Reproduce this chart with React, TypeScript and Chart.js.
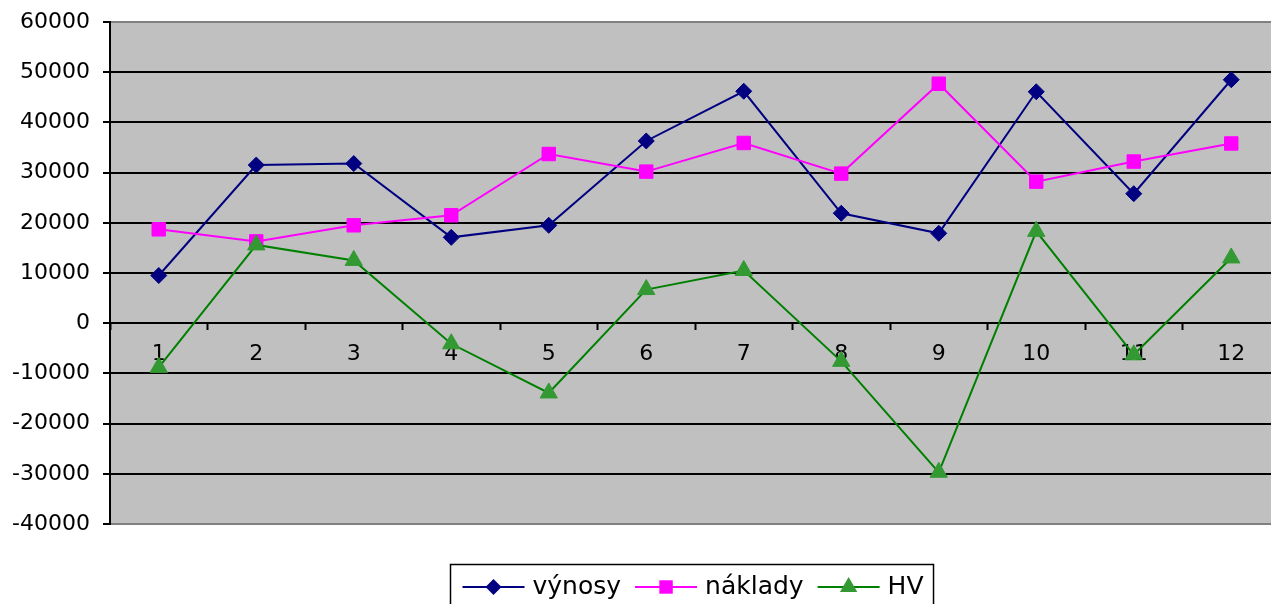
import React, { useEffect, useRef } from 'react';
import { Chart, registerables } from 'chart.js';

Chart.register(...registerables);

const categories = ['1', '2', '3', '4', '5', '6', '7', '8', '9', '10', '11', '12'];
const vynosy = [9500, 31500, 31800, 17100, 19500, 36300, 46200, 21900, 17900, 46100, 25800, 48500];
const naklady = [18700, 16300, 19500, 21500, 33700, 30200, 35900, 29800, 47700, 28200, 32200, 35800];
const hv = [-8800, 15600, 12500, -4100, -13900, 6700, 10500, -7600, -29700, 18300, -6300, 13000];
const seriesNames = ['výnosy', 'náklady', 'HV'];
const yMin = -40000;
const yMax = 60000;
const yStep = 10000;

const FONT = "'DejaVu Sans', sans-serif";

function drawMarker(ctx: CanvasRenderingContext2D, style: string, x: number, y: number, r: number, fill: string) {
  ctx.save();
  ctx.fillStyle = fill;
  ctx.beginPath();
  if (style === 'rectRot') {
    ctx.moveTo(x, y - r);
    ctx.lineTo(x + r, y);
    ctx.lineTo(x, y + r);
    ctx.lineTo(x - r, y);
  } else if (style === 'rect') {
    const s = r * Math.SQRT1_2;
    ctx.rect(x - s, y - s, 2 * s, 2 * s);
  } else {
    const a = (2 * Math.PI) / 3;
    ctx.moveTo(x, y - r);
    ctx.lineTo(x + Math.sin(a) * r, y - Math.cos(a) * r);
    ctx.lineTo(x + Math.sin(2 * a) * r, y - Math.cos(2 * a) * r);
  }
  ctx.closePath();
  ctx.fill();
  ctx.restore();
}

const plotBg = {
  id: 'plotBg',
  beforeDraw(chart: any) {
    const { ctx, chartArea: a } = chart;
    ctx.save();
    ctx.fillStyle = '#C0C0C0';
    ctx.fillRect(a.left, a.top, a.right - a.left, a.bottom - a.top);
    ctx.restore();
  },
};

const boxedLegend = {
  id: 'boxedLegend',
  afterDraw(chart: any) {
    const { ctx, chartArea: a } = chart;
    const datasets = chart.data.datasets;
    ctx.save();
    ctx.font = `25px ${FONT}`;
    const padL = 12, sample = 62, gap = 8, itemGap = 14, padR = 10;
    const widths = datasets.map((d: any) => ctx.measureText(d.label).width);
    let total = padL + padR;
    widths.forEach((w: number, i: number) => {
      total += sample + gap + w + (i < widths.length - 1 ? itemGap : 0);
    });
    const cx = (a.left + a.right) / 2 - 3;
    const left = Math.round(cx - total / 2) + 0.5;
    const top = 564.5;
    const midY = 587;
    ctx.strokeStyle = '#000';
    ctx.lineWidth = 1.5;
    ctx.strokeRect(left, top, total, 60);
    let x = left + padL;
    datasets.forEach((d: any, i: number) => {
      ctx.strokeStyle = d.borderColor;
      ctx.lineWidth = 2;
      ctx.beginPath();
      ctx.moveTo(x, midY);
      ctx.lineTo(x + sample, midY);
      ctx.stroke();
      drawMarker(ctx, d.pointStyle, x + sample / 2, midY, d.pointRadius, d.pointBackgroundColor);
      x += sample + gap;
      ctx.fillStyle = '#000';
      ctx.textBaseline = 'middle';
      ctx.textAlign = 'left';
      ctx.fillText(d.label, x, midY);
      x += widths[i] + itemGap;
    });
    ctx.restore();
  },
};

export default function App() {
  const ref = useRef<HTMLCanvasElement | null>(null);

  useEffect(() => {
    if (!ref.current) return;
    const chart = new Chart(ref.current, {
      type: 'line',
      data: {
        labels: categories,
        datasets: [
          {
            label: seriesNames[0],
            data: vynosy,
            borderColor: '#000080',
            backgroundColor: '#000080',
            pointBackgroundColor: '#000080',
            pointBorderColor: '#000080',
            pointStyle: 'rectRot',
            pointRadius: 8,
            pointBorderWidth: 1,
            borderWidth: 2,
            order: 2,
          },
          {
            label: seriesNames[1],
            data: naklady,
            borderColor: '#FF00FF',
            backgroundColor: '#FF00FF',
            pointBackgroundColor: '#FF00FF',
            pointBorderColor: '#FF00FF',
            pointStyle: 'rect',
            pointRadius: 9.5,
            pointBorderWidth: 1,
            borderWidth: 2,
            order: 1,
          },
          {
            label: seriesNames[2],
            data: hv,
            borderColor: '#008000',
            backgroundColor: '#339933',
            pointBackgroundColor: '#339933',
            pointBorderColor: '#339933',
            pointStyle: 'triangle',
            pointRadius: 10,
            pointBorderWidth: 1,
            borderWidth: 2,
            order: 0,
          },
        ],
      },
      options: {
        animation: false,
        responsive: true,
        maintainAspectRatio: false,
        layout: { autoPadding: false, padding: { top: 22, bottom: 80, left: 0, right: 1 } },
        plugins: {
          legend: { display: false },
          tooltip: { enabled: false },
        },
        scales: {
          x: {
            type: 'category',
            position: { y: 0 } as any,
            offset: true,
            afterFit: (scale: any) => {
              scale.paddingLeft = 0;
              scale.paddingRight = 0;
            },
            grid: {
              offset: true,
              drawOnChartArea: false,
              drawTicks: true,
              tickLength: 6,
              tickColor: '#000',
              tickWidth: 2,
            },
            border: { display: true, color: '#000', width: 2 },
            ticks: {
              color: '#000',
              font: { family: FONT, size: 22, lineHeight: 1.2 },
              padding: 12,
              maxRotation: 0,
              autoSkip: false,
            },
          },
          y: {
            min: yMin,
            max: yMax,
            afterFit: (scale: any) => {
              scale.width = 110;
              scale.paddingTop = 0;
              scale.paddingBottom = 0;
            },
            grid: {
              color: (c: any) =>
                c.tick && (c.tick.value === yMax || c.tick.value === yMin) ? '#808080' : '#000',
              lineWidth: 2,
              tickLength: 7,
              tickColor: '#000',
              tickWidth: 2,
            },
            border: { display: true, color: '#000', width: 2 },
            ticks: {
              stepSize: yStep,
              color: '#000',
              font: { family: FONT, size: 22, lineHeight: 1.2 },
              padding: 13,
              callback: (v: any) => String(v),
            },
          },
        },
      },
      plugins: [plotBg, boxedLegend],
    });
    return () => chart.destroy();
  }, []);

  return (
    <div style={{ position: 'fixed', left: 0, top: 0, width: 1271, height: 604, overflow: 'hidden', background: '#fff' }}>
      <div style={{ position: 'absolute', left: 0, top: 0, width: 1281, height: 604 }}>
        <canvas ref={ref} />
      </div>
    </div>
  );
}
